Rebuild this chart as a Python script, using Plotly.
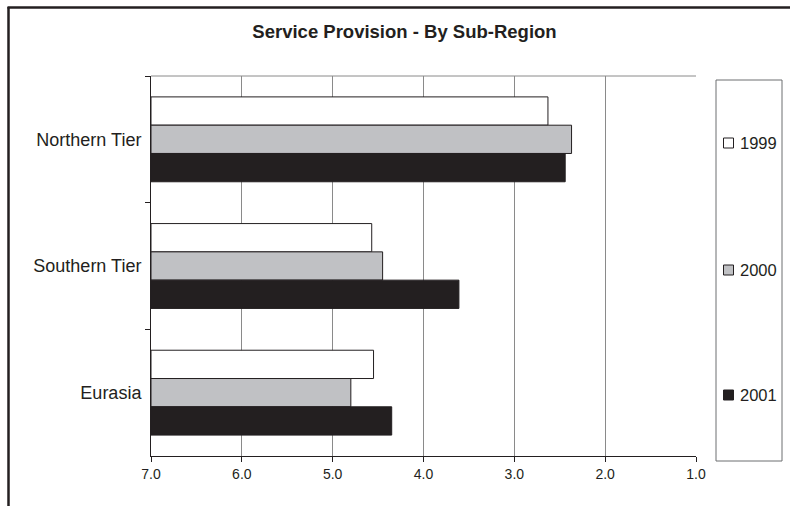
import plotly.graph_objects as go

# ---- data ----
regions = ["Northern Tier", "Southern Tier", "Eurasia"]
years = ["1999", "2000", "2001"]
v1999 = [2.63, 4.57, 4.55]
v2000 = [2.37, 4.45, 4.80]
v2001 = [2.44, 3.61, 4.35]
x_ticks = [7, 6, 5, 4, 3, 2, 1]
baseline = 7.0

series = [v1999, v2000, v2001]
fills = ["#ffffff", "#c0c1c4", "#231f20"]
ink = "#231f20"

W, H = 790, 506
L, R, T, B = 151, 696, 76, 456  # plot area in pixels


def px(x):
    return (x - L) / (R - L)


def py(y):
    return (B - y) / (B - T)


fig = go.Figure()
for yr, vals, col in zip(years, series, fills):
    fig.add_trace(go.Bar(
        y=regions,
        x=[v - baseline for v in vals],
        base=baseline,
        orientation="h",
        name=yr,
        marker=dict(color=col, line=dict(color=ink, width=1)),
        showlegend=False,
        hovertemplate=yr + " %{y}: %{customdata}<extra></extra>",
        customdata=vals,
    ))

shapes = []
# outer frame (left + top)
shapes.append(dict(type="line", xref="paper", yref="paper",
                   x0=px(8.5), x1=px(8.5), y0=py(7), y1=py(510),
                   line=dict(color=ink, width=2.5)))
shapes.append(dict(type="line", xref="paper", yref="paper",
                   x0=px(7.5), x1=px(795), y0=py(7.5), y1=py(7.5),
                   line=dict(color=ink, width=2.5)))
# plot area top border
shapes.append(dict(type="line", xref="paper", yref="paper",
                   x0=0, x1=1, y0=1, y1=1,
                   line=dict(color="#8a8a8a", width=1)))
# legend box
shapes.append(dict(type="rect", xref="paper", yref="paper",
                   x0=px(716), x1=px(782), y0=py(461), y1=py(80),
                   line=dict(color="#6d6e70", width=1), fillcolor="white"))

annotations = []
leg_y = [143, 270, 395]
for yr, col, yy in zip(years, fills, leg_y):
    shapes.append(dict(type="rect", xref="paper", yref="paper",
                       x0=px(723.5), x1=px(733.5), y0=py(yy + 5), y1=py(yy - 5),
                       line=dict(color=ink, width=1), fillcolor=col))
    annotations.append(dict(text=yr, xref="paper", yref="paper",
                            x=px(737.5), y=py(yy), xanchor="left", yanchor="middle",
                            showarrow=False,
                            font=dict(family="Liberation Sans, Arial", size=16.5, color=ink)))

fig.update_layout(
    width=W, height=H,
    margin=dict(l=L, r=W - R, t=T, b=H - B, pad=0),
    paper_bgcolor="white", plot_bgcolor="white",
    barmode="group", bargap=0.33, bargroupgap=0,
    title=dict(text="<b>Service Provision - By Sub-Region</b>",
               x=px(404.5), xref="paper", xanchor="center",
               y=1 - 32 / H, yref="container", yanchor="middle",
               font=dict(family="Liberation Sans, Arial", size=18.5, color=ink)),
    font=dict(family="Liberation Sans, Arial", color=ink),
    shapes=shapes,
    annotations=annotations,
    xaxis=dict(range=[7, 1], tickvals=x_ticks, tickformat=".1f",
               showgrid=True, gridcolor="#8a8a8a", gridwidth=1,
               showline=True, linecolor=ink, linewidth=1,
               ticks="outside", ticklen=5, tickcolor=ink,
               tickfont=dict(size=14, color=ink), zeroline=False,
               fixedrange=True),
    yaxis=dict(autorange="reversed", type="category",
               showline=True, linecolor=ink, linewidth=1,
               ticks="outside", ticklen=5, tickcolor=ink, tickson="boundaries",
               ticklabelstandoff=5,
               showgrid=False, tickfont=dict(size=18, color=ink),
               fixedrange=True),
)

fig.write_html("out.html")
